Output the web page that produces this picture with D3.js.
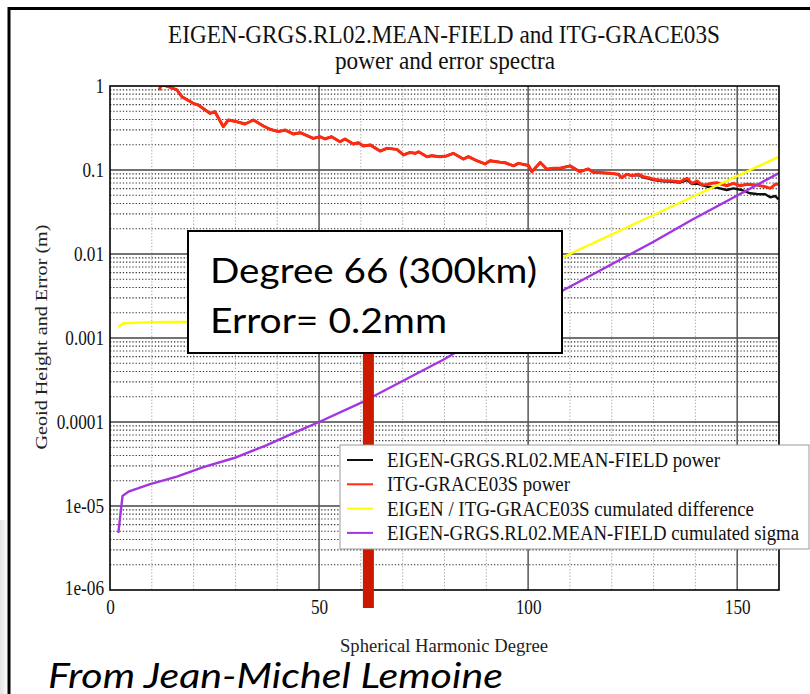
<!DOCTYPE html>
<html>
<head>
<meta charset="utf-8">
<script src="https://cdn.jsdelivr.net/npm/d3@7"></script>
<style>
  body { margin: 0; background: #fff; }
  svg { display: block; }
</style>
</head>
<body>
<svg id="chart" width="810" height="694"></svg>
<script>
// values: [degree, geoid height / error in m]
const xTicks = [0, 50, 100, 150]
const yTicks = [1, 0.1, 0.01, 0.001, 0.0001, 1e-5, 1e-6]
const yTickLabels = ['1', '0.1', '0.01', '0.001', '0.0001', '1e-05', '1e-06']

const itgPower = [
  [11.8, 0.895], [12.2, 1.03], [13.6, 1.0], [16.0, 0.90], [17.2, 0.746], [19.9, 0.622],
  [21.1, 0.594], [23.9, 0.473], [25.1, 0.494], [27.1, 0.328], [28.3, 0.394], [30.3, 0.376],
  [32.3, 0.353], [34.3, 0.394], [36.7, 0.334], [38.3, 0.305], [40.3, 0.286], [41.9, 0.299],
  [43.9, 0.268], [45.5, 0.278], [48.6, 0.238], [50.2, 0.249], [51.4, 0.234], [53.0, 0.249],
  [55.0, 0.217], [56.2, 0.234], [58.2, 0.204], [59.4, 0.211], [60.6, 0.193], [62.2, 0.199],
  [64.6, 0.168], [66.2, 0.181], [68.6, 0.176], [70.2, 0.151], [71.8, 0.162], [73.0, 0.158],
  [73.8, 0.165], [75.8, 0.144], [77.0, 0.148], [78.9, 0.144], [80.5, 0.147], [82.1, 0.158],
  [84.5, 0.135], [85.7, 0.144], [87.7, 0.129], [89.7, 0.118], [90.9, 0.129], [93.3, 0.124],
  [94.5, 0.122], [96.5, 0.112], [97.7, 0.120], [100.1, 0.113], [100.9, 0.0955], [102.9, 0.123],
  [104.5, 0.102], [106.1, 0.105], [107.7, 0.105], [110.0, 0.112], [112.4, 0.0955], [114.4, 0.103],
  [115.6, 0.094], [119.6, 0.0912], [121.6, 0.0888], [122.4, 0.081], [123.6, 0.0888], [124.8, 0.0857],
  [126.4, 0.0888], [127.6, 0.0833], [128.8, 0.081], [130.0, 0.0775], [132.4, 0.0746], [134.0, 0.0746],
  [136.4, 0.0726], [138.0, 0.0797], [139.2, 0.0694], [140.4, 0.074], [141.6, 0.0663], [142.8, 0.0673],
  [143.9, 0.0694], [145.1, 0.0706], [147.5, 0.065], [149.1, 0.0694], [150.7, 0.065], [152.3, 0.0675],
  [154.7, 0.0663], [156.7, 0.0633], [157.9, 0.0605], [159.1, 0.0675], [159.9, 0.0681]
]

// below degree 125 the EIGEN power sits under the ITG curve
const eigenPowerTail = [
  [126.4, 0.087], [127.6, 0.0815], [128.8, 0.079], [130.0, 0.076], [132.4, 0.0735], [134.0, 0.073],
  [136.4, 0.071], [138.0, 0.076], [139.2, 0.068], [140.4, 0.069], [142.8, 0.0633], [145.1, 0.0616],
  [147.5, 0.0578], [149.1, 0.0605], [151.1, 0.0578], [153.1, 0.0528], [154.7, 0.0518], [156.7, 0.0514],
  [157.9, 0.0473], [159.1, 0.049], [159.9, 0.0448]
]

const cumulatedDifference = [
  [2, 0.00136], [3.2, 0.0015], [10, 0.00154], [18.4, 0.00156], [30, 0.00165], [50, 0.002],
  [70, 0.003], [90, 0.0052], [108.4, 0.0092], [127.4, 0.0254], [145, 0.065], [160, 0.144]
]

const cumulatedSigma = [
  [2, 4.8e-6], [3, 1.32e-5], [4.4, 1.48e-5], [9.6, 1.82e-5], [16, 2.24e-5], [22.3, 2.9e-5],
  [29.5, 3.7e-5], [37.5, 5.3e-5], [45.5, 8.0e-5], [50, 1.0e-4], [60.5, 1.74e-4], [79.7, 5.5e-4],
  [90, 1.1e-3], [100, 2.0e-3], [108.4, 3.7e-3], [130, 0.014], [139.1, 0.0254], [160, 0.092]
]

const seriesNames = [
  'EIGEN-GRGS.RL02.MEAN-FIELD power',
  'ITG-GRACE03S power',
  'EIGEN / ITG-GRACE03S cumulated difference',
  'EIGEN-GRGS.RL02.MEAN-FIELD cumulated sigma'
]
const seriesColors = ['#111111', '#ff2a10', '#ffff00', '#a335e0']

const markerDegree = 61.8
const noteLines = ['Degree 66 (300km)', 'Error= 0.2mm']

const serif = '"Liberation Serif", "DejaVu Serif", serif'
const sans = 'Lato, "Open Sans", sans-serif'

const svg = d3.select('#chart')

const x = d3.scaleLinear().domain([0, 160]).range([110, 779])
const y = d3.scaleLog().domain([1e-6, 1]).range([590, 86])
const [x0, x1] = x.range()
const [y0, y1] = y.range()

function fit(sel, width) {
  sel.attr('textLength', width).attr('lengthAdjust', 'spacingAndGlyphs')
}
function squeeze(sel, k) {
  sel.each(function () {
    d3.select(this)
      .attr('textLength', this.getComputedTextLength() * k)
      .attr('lengthAdjust', 'spacingAndGlyphs')
  })
}

// slide frame and its faint shadow
const defs = svg.append('defs')
const shade = defs.append('linearGradient').attr('id', 'shade')
shade.append('stop').attr('offset', 0).attr('stop-color', '#e4e4e4')
shade.append('stop').attr('offset', 1).attr('stop-color', '#fafafa')
svg.append('rect').attr('x', 0).attr('y', 520).attr('width', 7).attr('height', 174).attr('fill', 'url(#shade)')
svg.append('path').attr('d', 'M9,694 V8.5 H810').attr('fill', 'none').attr('stroke', '#000').attr('stroke-width', 3)

defs.append('clipPath').attr('id', 'plot-clip')
  .append('rect').attr('x', x0).attr('y', y1).attr('width', x1 - x0).attr('height', y0 - y1)

// grid
const grid = svg.append('g')
const minorY = d3.range(-6, 0).flatMap(e => d3.range(2, 10).map(k => k * Math.pow(10, e)))
grid.selectAll('.minor-y').data(minorY).join('line')
  .attr('x1', x0).attr('x2', x1).attr('y1', d => y(d)).attr('y2', d => y(d))
  .attr('stroke', '#333').attr('stroke-width', 1.1).attr('stroke-dasharray', '1.3,1.9')
const minorX = d3.range(10, 161, 10).filter(d => d % 50 !== 0)
grid.selectAll('.minor-x').data(minorX).join('line')
  .attr('x1', d => x(d)).attr('x2', d => x(d)).attr('y1', y1).attr('y2', y0)
  .attr('stroke', '#a8a8a0').attr('stroke-width', 1).attr('stroke-dasharray', '1.3,1.9')
grid.selectAll('.major-y').data(yTicks.slice(1, -1)).join('line')
  .attr('x1', x0).attr('x2', x1).attr('y1', d => y(d)).attr('y2', d => y(d))
  .attr('stroke', '#444').attr('stroke-width', 1.6)
grid.selectAll('.major-x').data(xTicks.slice(1)).join('line')
  .attr('x1', d => x(d)).attr('x2', d => x(d)).attr('y1', y1).attr('y2', y0)
  .attr('stroke', '#555').attr('stroke-width', 1.5)

// series
const line = d3.line().x(d => x(d[0])).y(d => y(d[1]))
const eigenPower = itgPower.filter(d => d[0] < 125).concat(eigenPowerTail)
const series = [
  { data: eigenPower, color: seriesColors[0], width: 2.4 },
  { data: itgPower, color: seriesColors[1], width: 3 },
  { data: cumulatedDifference, color: seriesColors[2], width: 2.4 },
  { data: cumulatedSigma, color: seriesColors[3], width: 2.4 }
]
svg.append('g').attr('clip-path', 'url(#plot-clip)')
  .selectAll('path').data(series).join('path')
  .attr('d', d => line(d.data))
  .attr('fill', 'none')
  .attr('stroke', d => d.color)
  .attr('stroke-width', d => d.width)
  .attr('stroke-linejoin', 'round')

svg.append('rect').attr('x', x0).attr('y', y1).attr('width', x1 - x0).attr('height', y0 - y1)
  .attr('fill', 'none').attr('stroke', '#000').attr('stroke-width', 1.6)

// axes
const yAxis = svg.append('g').attr('transform', `translate(${x0},0)`)
  .call(d3.axisLeft(y).tickValues(yTicks).tickFormat((d, i) => yTickLabels[i]).tickSize(0).tickPadding(6))
yAxis.select('.domain').remove()
yAxis.selectAll('text').attr('font-family', serif).attr('font-size', 20).attr('fill', '#111')
  .call(squeeze, 0.86)
yAxis.selectAll('.tick:last-of-type text').attr('dy', '0.2em')

const xAxis = svg.append('g').attr('transform', `translate(0,${y0})`)
  .call(d3.axisBottom(x).tickValues(xTicks).tickSize(0).tickPadding(10))
xAxis.select('.domain').remove()
xAxis.selectAll('text').attr('font-family', serif).attr('font-size', 20).attr('fill', '#111')
  .call(squeeze, 0.86)

// titles
svg.append('text').attr('x', 444).attr('y', 43).attr('text-anchor', 'middle')
  .attr('font-family', serif).attr('font-size', 25).attr('fill', '#111')
  .text('EIGEN-GRGS.RL02.MEAN-FIELD and ITG-GRACE03S').call(fit, 552)
svg.append('text').attr('x', 445).attr('y', 69).attr('text-anchor', 'middle')
  .attr('font-family', serif).attr('font-size', 25).attr('fill', '#111')
  .text('power and error spectra').call(fit, 220)
svg.append('text').attr('x', 444).attr('y', 652).attr('text-anchor', 'middle')
  .attr('font-family', serif).attr('font-size', 18).attr('fill', '#222')
  .text('Spherical Harmonic Degree').call(fit, 208)
svg.append('text').attr('transform', 'translate(47,337) rotate(-90)').attr('text-anchor', 'middle')
  .attr('font-family', serif).attr('font-size', 16).attr('fill', '#222')
  .text('Geoid Height and Error (m)').call(fit, 225)

// marker bar at the quoted degree
const box = { x: 188, y: 231, w: 374, h: 122 }
svg.append('rect')
  .attr('x', x(markerDegree) - 5.5).attr('width', 11)
  .attr('y', box.y).attr('height', y0 + 18 - box.y)
  .attr('fill', '#cc1a00')

// legend
const legend = svg.append('g').attr('transform', 'translate(340,445)')
legend.append('rect').attr('width', 469).attr('height', 104)
  .attr('fill', '#fff').attr('stroke', '#999').attr('stroke-width', 1)
const legendWidths = [333, 183, 367, 412]
const entry = legend.selectAll('g').data(seriesNames).join('g')
  .attr('transform', (d, i) => `translate(0,${15 + i * 24.3})`)
entry.append('line').attr('x1', 7).attr('x2', 33)
  .attr('stroke', (d, i) => seriesColors[i]).attr('stroke-width', 2)
entry.append('text').attr('x', 47).attr('dy', '0.35em')
  .attr('font-family', serif).attr('font-size', 20).attr('fill', '#111')
  .text(d => d)
  .each(function (d, i) { d3.select(this).call(fit, legendWidths[i]) })

// annotation
svg.append('rect').attr('x', box.x).attr('y', box.y).attr('width', box.w).attr('height', box.h)
  .attr('fill', '#fff').attr('stroke', '#000').attr('stroke-width', 2)
svg.append('g').selectAll('text').data(noteLines).join('text')
  .attr('x', 210).attr('y', (d, i) => 283 + i * 49.5)
  .attr('font-family', sans).attr('font-size', 35).attr('fill', '#000')
  .text(d => d)
  .each(function (d, i) { d3.select(this).call(fit, [327, 237][i]) })

svg.append('text').attr('x', 48).attr('y', 688)
  .attr('font-family', sans).attr('font-style', 'italic').attr('font-size', 35).attr('fill', '#000')
  .text('From Jean-Michel Lemoine').call(fit, 455)
</script>
</body>
</html>
